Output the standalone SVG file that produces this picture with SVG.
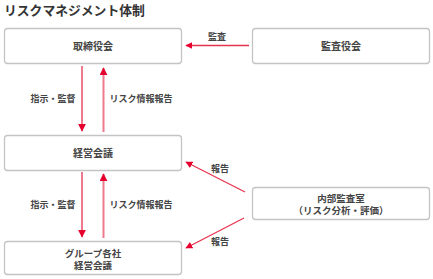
<svg xmlns="http://www.w3.org/2000/svg" width="433" height="279" viewBox="0 0 433 279">
<style>
.box{fill:#fff;stroke:#c4c4c4;stroke-width:1.3}
.t{font-family:"Noto Sans CJK JP","Noto Sans",sans-serif;font-size:10px;font-weight:bold;fill:#444;text-anchor:middle}
.t2{font-family:"Noto Sans CJK JP","Noto Sans",sans-serif;font-size:9.5px;font-weight:bold;fill:#444;text-anchor:middle}
.l{font-family:"Noto Sans CJK JP","Noto Sans",sans-serif;font-size:9px;font-weight:bold;fill:#444;text-anchor:middle}
.v{stroke:#ee7b8d;stroke-width:2;fill:none}
.d{stroke:#e8334f;stroke-width:1.3;fill:none}
</style>
<defs>
<marker id="ah" viewBox="0 0 10 10" refX="9" refY="5" markerWidth="7" markerHeight="7" markerUnits="userSpaceOnUse" orient="auto"><path d="M0,0L10,5L0,10z" fill="#e6002d"/></marker>
<marker id="av" viewBox="0 0 10 10" refX="9" refY="5" markerWidth="4" markerHeight="4" orient="auto"><path d="M0,0L10,5L0,10z" fill="#e6002d"/></marker>
</defs>
<text x="4" y="15" font-family="'Noto Sans CJK JP','Noto Sans',sans-serif" font-size="12.8" font-weight="bold" fill="#333">リスクマネジメント体制</text>
<g id="board"><rect class="box" x="4.5" y="28.5" width="177" height="35" rx="3"/><text class="t" x="93" y="49.5">取締役会</text></g>
<g id="auditors"><rect class="box" x="252.5" y="28.5" width="177" height="35" rx="3"/><text class="t" x="341" y="49.5">監査役会</text></g>
<g id="mgmt"><rect class="box" x="4.5" y="135.5" width="177" height="35" rx="3"/><text class="t" x="93" y="156.5">経営会議</text></g>
<g id="group"><rect class="box" x="4.5" y="241.5" width="177" height="33" rx="3"/><text class="t2" x="93" y="256.5">グループ各社</text><text class="t2" x="93" y="269">経営会議</text></g>
<g id="internal"><rect class="box" x="252.5" y="187.5" width="177" height="32" rx="3"/><text class="t2" x="341" y="201.5">内部監査室</text><text class="t2" x="341" y="214">（リスク分析・評価）</text></g>
<g id="connectors">
<path class="d" d="M249,45.5H186" marker-end="url(#ah)"/>
<path class="v" d="M82,66V131" marker-end="url(#av)"/>
<path class="v" d="M103.5,132V68" marker-end="url(#av)"/>
<path class="v" d="M82,172V237" marker-end="url(#av)"/>
<path class="v" d="M103.5,238V174" marker-end="url(#av)"/>
<path class="d" d="M245,192L186,162" marker-end="url(#ah)"/>
<path class="d" d="M244,218L186,248" marker-end="url(#ah)"/>
<text class="l" x="217" y="40">監査</text>
<text class="l" x="53" y="102">指示・監督</text>
<text class="l" x="141" y="102">リスク情報報告</text>
<text class="l" x="53" y="208">指示・監督</text>
<text class="l" x="141" y="208">リスク情報報告</text>
<text class="l" x="220" y="172">報告</text>
<text class="l" x="220" y="245">報告</text>
</g>
</svg>
